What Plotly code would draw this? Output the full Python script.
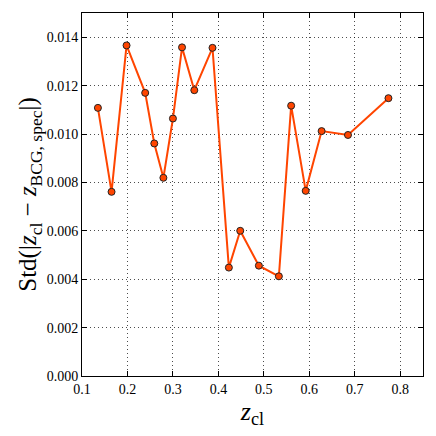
import plotly.graph_objects as go

# Std of |z_cl - z_BCG,spec| per redshift bin
z_cl = [0.135, 0.165, 0.198, 0.239, 0.259, 0.279, 0.300, 0.320, 0.347, 0.387,
        0.423, 0.448, 0.489, 0.533, 0.560, 0.592, 0.627, 0.685, 0.774]
std_dz = [0.01108, 0.00761, 0.01366, 0.01170, 0.00961, 0.00819, 0.01064, 0.01358,
          0.01181, 0.01356, 0.00448, 0.00600, 0.00456, 0.00412, 0.01117, 0.00765,
          0.01012, 0.00996, 0.01148]

x_ticks = [0.1, 0.2, 0.3, 0.4, 0.5, 0.6, 0.7, 0.8]
y_ticks = [0.000, 0.002, 0.004, 0.006, 0.008, 0.010, 0.012, 0.014]

LINE = "#FF4500"
FONT = "Liberation Serif"

_AXIS = dict(
    showline=True, linecolor="black", linewidth=1, mirror="ticks",
    ticks="inside", ticklen=5, tickcolor="black", tickwidth=1,
    showgrid=True, gridcolor="rgba(0,0,0,0.7)", griddash="1px,3px", gridwidth=1,
    zeroline=False, tickfont=dict(family=FONT, size=14, color="black"),
)

fig = go.Figure()
fig.add_trace(go.Scatter(
    x=z_cl, y=std_dz, mode="lines+markers",
    line=dict(color=LINE, width=2),
    marker=dict(size=7, color=LINE, line=dict(color="#222222", width=1)),
    showlegend=False,
))
fig.update_layout(
    width=428, height=428,
    paper_bgcolor="white", plot_bgcolor="white",
    margin=dict(l=74, r=13, t=5, b=60),
    font=dict(family=FONT, color="black"),
    xaxis=dict(
        range=[0.1, 0.85], tickvals=x_ticks, ticktext=[f"{v:.1f}" for v in x_ticks],
        title=dict(text="<i>z</i><sub>cl</sub>", font=dict(family=FONT, size=26), standoff=2),
        **_AXIS,
    ),
    yaxis=dict(
        range=[0, 0.015], tickvals=y_ticks, ticktext=[f"{v:.3f}" for v in y_ticks],
        title=dict(text="Std(|<i>z</i><sub>cl</sub> − <i>z</i><sub>BCG, spec</sub>|)",
                   font=dict(family=FONT, size=25), standoff=2),
        **_AXIS,
    ),
)
fig.write_html("out.html")
